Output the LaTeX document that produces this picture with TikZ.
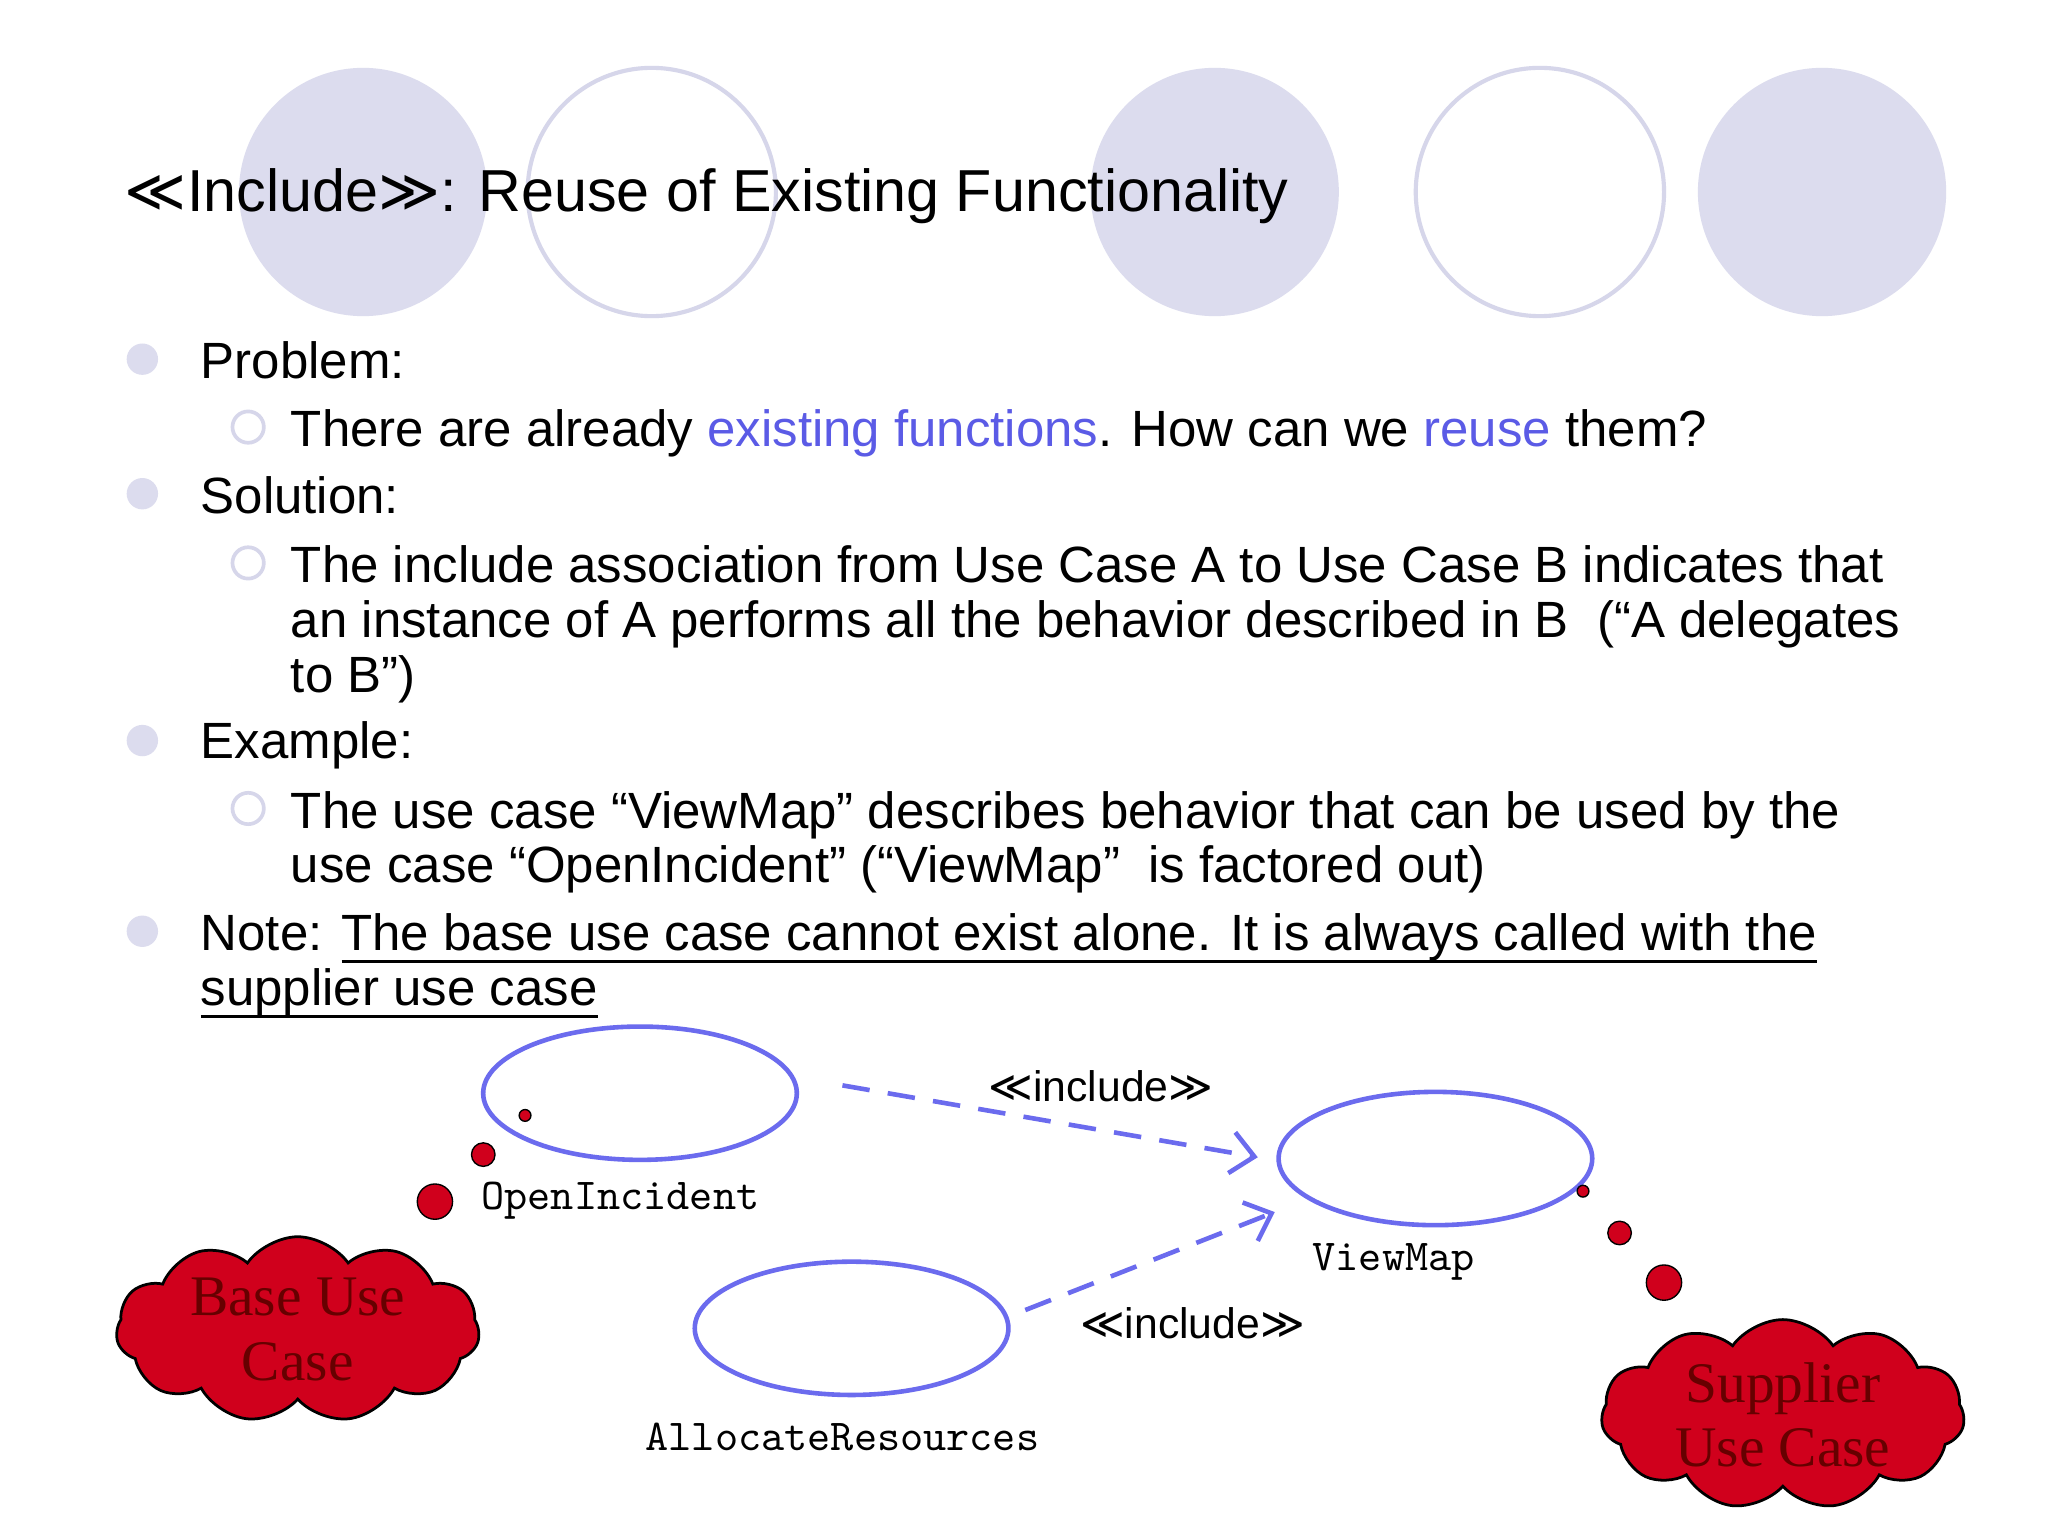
\documentclass[tikz,border=0pt]{standalone}
\usepackage{fontspec}
\setmainfont{Liberation Sans}
\newfontfamily\symf{DejaVu Sans}
\newfontfamily\cloudf{Liberation Serif}
\usetikzlibrary{shapes.symbols,shapes.geometric,arrows.meta}
\definecolor{lav}{HTML}{DCDCEE}
\definecolor{lavline}{HTML}{D6D6EA}
\definecolor{uc}{HTML}{6B6BEE}
\definecolor{cred}{HTML}{D0001C}
\definecolor{blu}{HTML}{5B5BE6}
\newcommand\myul[1]{\setbox0\hbox{#1}\rlap{\rule[-2.6pt]{\wd0}{0.6pt}}\box0}
\tikzset{
  deco/.style={circle,minimum size=1.9cm,inner sep=0pt},
  fillc/.style={deco,fill=lav},
  openc/.style={deco,draw=lavline,line width=0.9pt},
  bul/.style={circle,fill=lav,minimum size=0.24cm,inner sep=0pt},
  hbul/.style={circle,draw=lavline,line width=0.8pt,minimum size=0.24cm,inner sep=0pt},
  txt/.style={anchor=base west,inner sep=0pt,font=\fontsize{11.1pt}{13pt}\selectfont},
  ucase/.style={ellipse,draw=uc,line width=1pt,minimum width=2.4cm,minimum height=1.02cm},
  ulab/.style={font=\ttfamily\fontsize{9.6pt}{12pt}\selectfont},
  inc/.style={draw=uc,dashed,line width=1pt,dash pattern=on 6pt off 4pt,-{Straight Barb[length=5pt,width=9pt]}},
  incl/.style={font=\fontsize{9.3pt}{11pt}\selectfont},
  thought/.style={circle,fill=cred,draw=black,line width=0.3pt,inner sep=0pt},
  cld/.style={cloud,cloud puffs=11,cloud puff arc=110,aspect=2.2,fill=cred,draw=black,line width=0.6pt,minimum width=2.78cm,minimum height=1.3cm,inner sep=0pt,align=center,font=\cloudf\fontsize{12.5pt}{14pt}\selectfont,text=black!60!red}
}
\begin{document}
\begin{tikzpicture}[x=0.01cm,y=-0.01cm]
\useasboundingbox (0,0) rectangle (1568,1176);
\fill[white] (0,0) rectangle (1568,1176);
\node[fillc] (c1) at (278,147) {};
\node[openc] (c2) at (499,147) {};
\node[fillc] (c3) at (930,147) {};
\node[openc] (c4) at (1179,147) {};
\node[fillc] (c5) at (1395,147) {};
\node[anchor=base west,inner sep=0pt,font=\fontsize{12.9pt}{15pt}\selectfont] (title) at (95,162) {{\symf ≪}Include{\symf ≫}: Reuse of Existing Functionality};

\node[bul] (b1) at (109,275) {};
\node[txt] (t1) at (153,290) {Problem:};
\node[hbul] (h1) at (190,327) {};
\node[txt] (t2) at (222,342) {There are already \textcolor{blu}{existing functions}. How can we \textcolor{blu}{reuse} them?};
\node[bul] (b2) at (109,378) {};
\node[txt] (t3) at (153,393) {Solution:};
\node[hbul] (h2) at (190,431) {};
\node[txt] (t4) at (222,446) {The include association from Use Case A to Use Case B indicates that};
\node[txt] (t5) at (222,488) {an instance of A performs all the behavior described in B\ \ (“A delegates};
\node[txt] (t6) at (222,530) {to B”)};
\node[bul] (b3) at (109,567) {};
\node[txt] (t7) at (153,581) {Example:};
\node[hbul] (h3) at (190,619) {};
\node[txt] (t8) at (222,634) {The use case “ViewMap” describes behavior that can be used by the};
\node[txt] (t9) at (222,676) {use case “OpenIncident” (“ViewMap”\ \ is factored out)};
\node[bul] (b4) at (109,713) {};
\node[txt] (t10) at (153,728) {Note: \myul{The base use case cannot exist alone. It is always called with the}};
\node[txt] (t11) at (153,770) {\myul{supplier use case}};

\node[ucase] (oi) at (490,837) {};
\node[ucase] (vm) at (1099,887) {};
\node[ucase] (ar) at (652,1017) {};
\node[ulab] (oil) at (475,919) {OpenIncident};
\node[ulab] (vml) at (1067,966) {ViewMap};
\node[ulab] (arl) at (645,1100) {AllocateResources};

\coordinate (a1s) at (645,831);
\coordinate (a1e) at (963,886);
\coordinate (a2s) at (785,1003);
\coordinate (a2e) at (976,928);
\draw[inc] (a1s) -- (a1e);
\draw[inc] (a2s) -- (a2e);
\node[incl] (il1) at (843,832) {{\symf ≪}include{\symf ≫}};
\node[incl] (il2) at (913,1013) {{\symf ≪}include{\symf ≫}};

\node[thought,minimum size=0.09cm] (p1) at (402,854) {};
\node[thought,minimum size=0.18cm] (p2) at (370,884) {};
\node[thought,minimum size=0.27cm] (p3) at (333,920) {};
\node[thought,minimum size=0.09cm] (q1) at (1212,912) {};
\node[thought,minimum size=0.18cm] (q2) at (1240,944) {};
\node[thought,minimum size=0.27cm] (q3) at (1274,982) {};

\node[cld] (base) at (228,1018) {Base Use\\Case};
\node[cld] (sup) at (1365,1083) {Supplier\\Use Case};
\end{tikzpicture}
\end{document}
